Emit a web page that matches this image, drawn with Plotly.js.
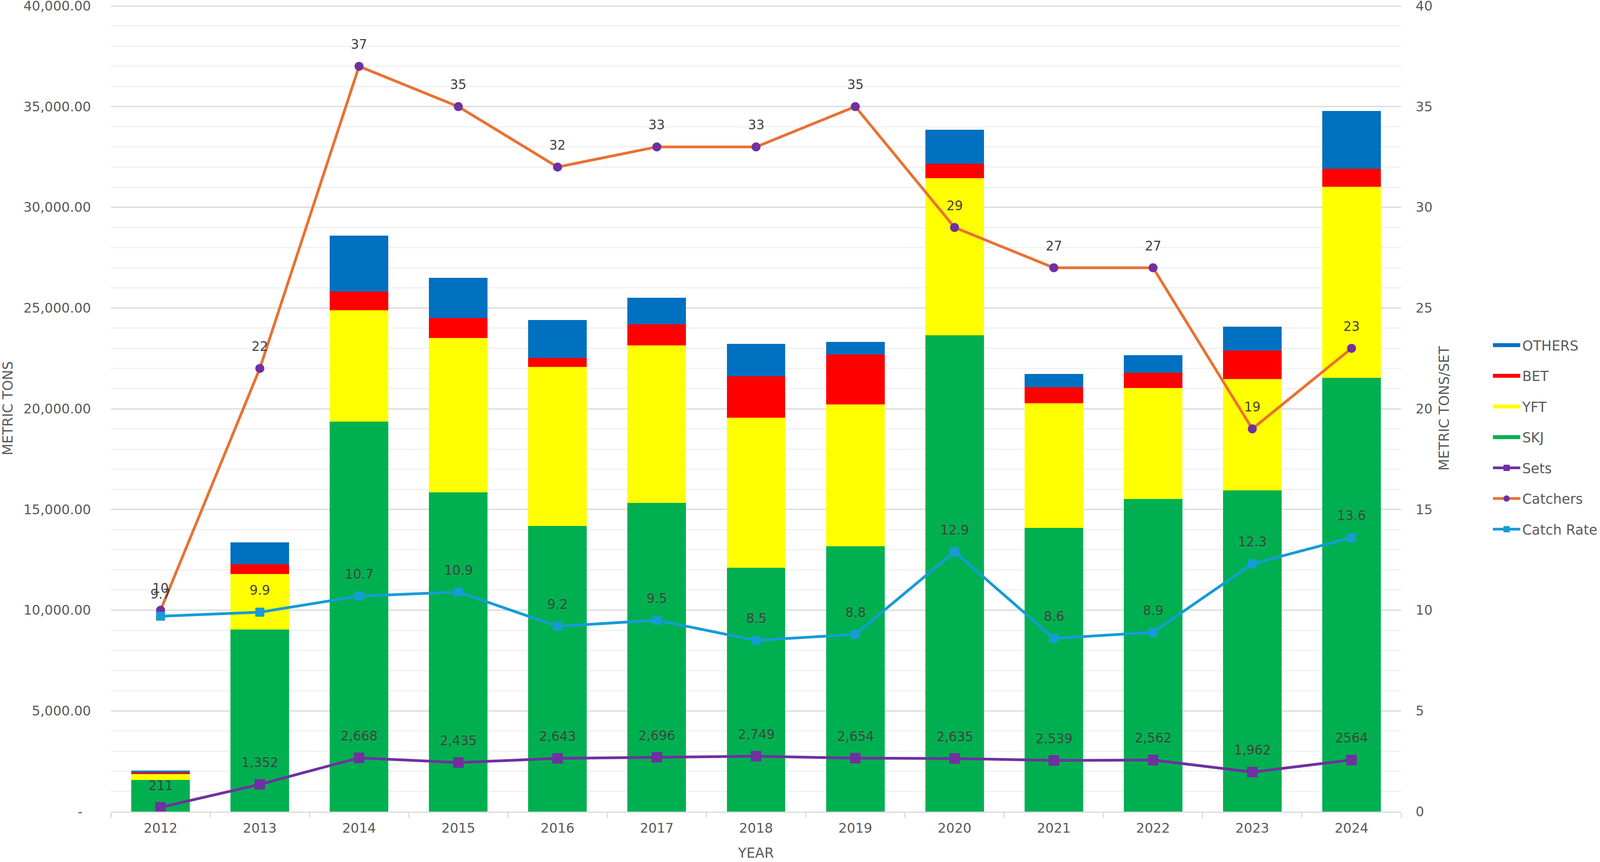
<!DOCTYPE html>
<html>
<head>
<meta charset="utf-8">
<script src="https://cdn.plot.ly/plotly-3.0.1.min.js"></script>
<style>
  html, body { margin: 0; padding: 0; background: #ffffff; }
  #chart { width: 4107px; height: 2206px; }
</style>
</head>
<body>
<div id="chart"></div>
<script>
// catch by species (metric tons)
const years = ['2012', '2013', '2014', '2015', '2016', '2017', '2018', '2019', '2020', '2021', '2022', '2023', '2024'];
const skj    = [1564, 9034, 19358, 15847, 14178, 15329, 12110, 13163, 23648, 14080, 15511, 15945, 21525];
const yft    = [299, 2759, 5525, 7664, 7899, 7811, 7440, 7059, 7798, 6191, 5516, 5532, 9487];
const bet    = [79, 478, 939, 989, 445, 1051, 2060, 2477, 724, 804, 755, 1415, 901];
const others = [100, 1098, 2781, 1990, 1892, 1310, 1620, 627, 1688, 643, 885, 1190, 2862];

// effort lines
const sets      = [211, 1352, 2668, 2435, 2643, 2696, 2749, 2654, 2635, 2539, 2562, 1962, 2564];
const setsText  = ['211', '1,352', '2,668', '2,435', '2,643', '2,696', '2,749', '2,654', '2,635', '2,539', '2,562', '1,962', '2564'];
const catchers  = [10, 22, 37, 35, 32, 33, 33, 35, 29, 27, 27, 19, 23];
const catchRate = [9.7, 9.9, 10.7, 10.9, 9.2, 9.5, 8.5, 8.8, 12.9, 8.6, 8.9, 12.3, 13.6];

// axis ticks
const leftTickVals  = [0, 5000, 10000, 15000, 20000, 25000, 30000, 35000, 40000];
const leftTickText  = ['-  ', '5,000.00', '10,000.00', '15,000.00', '20,000.00', '25,000.00', '30,000.00', '35,000.00', '40,000.00'];
const rightTickVals = [0, 5, 10, 15, 20, 25, 30, 35, 40];

const FONT = '"DejaVu Sans", Arial, sans-serif';
const TICK_COLOR = '#595959';
const LABEL_COLOR = '#404040';

const bar = (name, values, color) => ({
  type: 'bar',
  name: name,
  x: years,
  y: values,
  marker: { color: color, line: { width: 0 } },
  legendgroup: name,
  showlegend: false
});

// wide flat legend key for a bar series (no points of its own)
const barKey = (name, color, rank) => ({
  type: 'scatter',
  mode: 'lines',
  name: name,
  x: [null],
  y: [null],
  line: { color: color, width: 22 },
  legendgroup: name,
  legendrank: rank,
  hoverinfo: 'skip'
});

const line = (name, values, axis, lineColor, markerColor, symbol, size, rank) => ({
  type: 'scatter',
  mode: 'lines+markers',
  name: name,
  x: years,
  y: values,
  yaxis: axis,
  line: { color: lineColor, width: 7 },
  marker: { color: markerColor, symbol: symbol, size: size },
  legendgroup: name,
  legendrank: rank,
  cliponaxis: false
});

// bars first so SKJ sits at the bottom of each stack
const traces = [
  bar('SKJ', skj, '#00b050'),
  bar('YFT', yft, '#ffff00'),
  bar('BET', bet, '#ff0000'),
  bar('OTHERS', others, '#0070c0'),
  barKey('OTHERS', '#0070c0', 1),
  barKey('BET', '#ff0000', 2),
  barKey('YFT', '#ffff00', 3),
  barKey('SKJ', '#00b050', 4),
  line('Sets', sets, 'y', '#7030a0', '#7030a0', 'square', 27, 5),
  line('Catchers', catchers, 'y2', '#e97132', '#7030a0', 'circle', 23, 6),
  line('Catch Rate', catchRate, 'y2', '#179bd5', '#179bd5', 'square', 23, 7)
];

// data labels sit above each point (x is the category index)
const labelSet = (texts, values, yref) => values.map((v, i) => ({
  x: i,
  y: v,
  xref: 'x',
  yref: yref,
  text: texts[i],
  showarrow: false,
  yshift: 56,
  font: { family: FONT, size: 33, color: LABEL_COLOR }
}));

const annotations = []
  .concat(labelSet(setsText, sets, 'y'))
  .concat(labelSet(catchers.map(String), catchers, 'y2'))
  .concat(labelSet(catchRate.map((v) => v.toFixed(1)), catchRate, 'y2'));

const layout = {
  width: 4107,
  height: 2206,
  paper_bgcolor: '#ffffff',
  plot_bgcolor: '#ffffff',
  margin: { l: 284, r: 517, t: 13, b: 129 },
  barmode: 'stack',
  bargap: 0.41,
  showlegend: true,
  font: { family: FONT, size: 34, color: TICK_COLOR },
  xaxis: {
    type: 'category',
    range: [-0.5, years.length - 0.5],
    automargin: false,
    showline: true,
    linecolor: '#d9d9d9',
    linewidth: 3,
    ticks: 'outside',
    tickson: 'boundaries',
    ticklen: 13,
    tickwidth: 3,
    tickcolor: '#d9d9d9',
    ticklabelstandoff: 10,
    showgrid: false,
    tickangle: 0,
    tickfont: { family: FONT, size: 34, color: TICK_COLOR },
    title: { text: 'YEAR', standoff: 33, font: { family: FONT, size: 35, color: TICK_COLOR } }
  },
  yaxis: {
    range: [0, 40040],
    automargin: false,
    tickmode: 'array',
    tickvals: leftTickVals,
    ticktext: leftTickText,
    ticklabelstandoff: 50,
    ticklabeloverflow: 'allow',
    showgrid: true,
    gridcolor: '#d9d9d9',
    gridwidth: 3,
    zeroline: false,
    minor: { dtick: 1000, showgrid: true, gridcolor: '#f0f0f0', gridwidth: 3, ticks: '' },
    tickfont: { family: FONT, size: 34, color: TICK_COLOR },
    title: { text: 'METRIC TONS', standoff: 20, font: { family: FONT, size: 35, color: TICK_COLOR } }
  },
  yaxis2: {
    overlaying: 'y',
    side: 'right',
    range: [0, 40.04],
    automargin: false,
    tickmode: 'array',
    tickvals: rightTickVals,
    ticklabelstandoff: 36,
    ticklabeloverflow: 'allow',
    showgrid: false,
    zeroline: false,
    tickfont: { family: FONT, size: 34, color: TICK_COLOR },
    title: { text: 'METRIC TONS/SET', standoff: 18, font: { family: FONT, size: 35, color: TICK_COLOR } }
  },
  legend: {
    x: 1.0696,
    xanchor: 'left',
    y: 0.5925,
    yanchor: 'top',
    traceorder: 'grouped',
    tracegroupgap: 30,
    itemwidth: 70,
    bgcolor: 'rgba(0,0,0,0)',
    font: { family: FONT, size: 35, color: TICK_COLOR }
  },
  annotations: annotations
};

Plotly.newPlot('chart', traces, layout, { displayModeBar: false, staticPlot: true });
</script>
</body>
</html>
